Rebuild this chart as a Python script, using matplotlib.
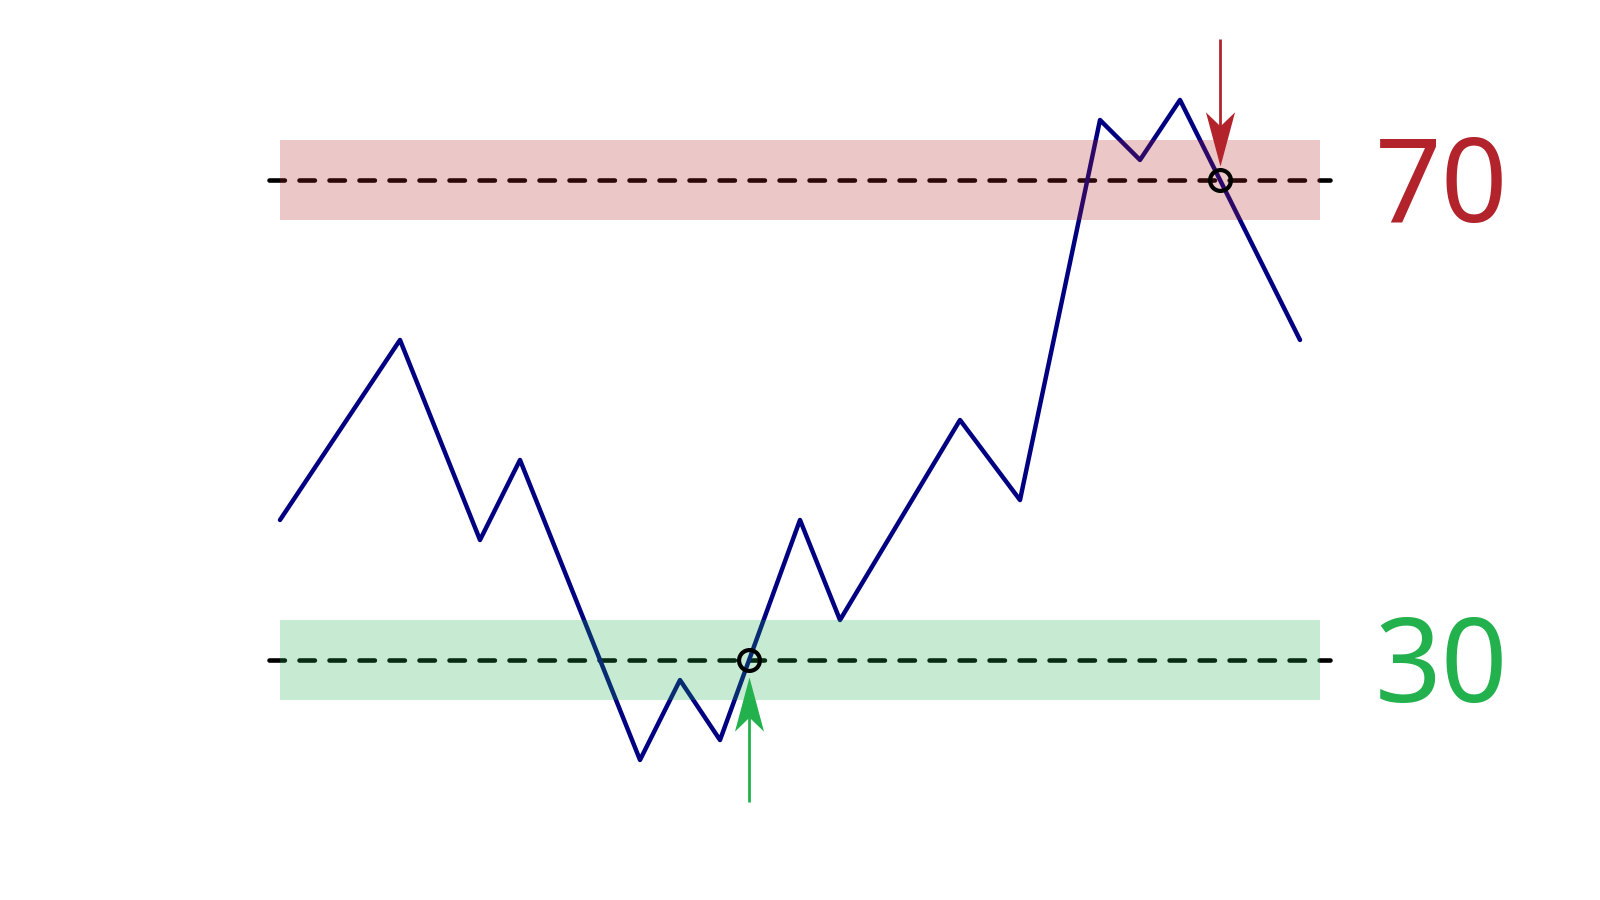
import numpy as np
import matplotlib
matplotlib.use("Agg")
import matplotlib.pyplot as plt
from matplotlib.path import Path

# data
x_vals = [0, 3, 5, 6, 9, 10, 11, 13, 14, 17, 18.5, 20.5, 21.5, 22.5, 25.5]
rsi = [41.67, 56.67, 40.0, 46.67, 21.67, 28.33, 23.33, 41.67, 33.33, 50.0,
       43.33, 75.0, 71.67, 76.67, 56.67]
upper_level = 70
lower_level = 30
band_half = 3.33
labels = ["70", "30"]

RED = "#B2232C"
GREEN = "#22B14C"
NAVY = "#000080"

fig = plt.figure(figsize=(16, 9), dpi=100)
ax = fig.add_axes([0, 0, 1, 1])
ax.set_xlim(-7, 33)
ax.set_ylim(10, 85)
ax.axis("off")

x = np.array(x_vals, dtype=float)
y = np.array(rsi, dtype=float)

# dashed level lines
for lvl in (upper_level, lower_level):
    ln, = ax.plot([x[0] - 0.268, x[-1] + 0.74], [lvl, lvl], color="black",
                  lw=3.3, zorder=1, dash_capstyle="round")
    ln.set_dashes((3.36, 3.186))

# RSI line
ax.plot(x, y, color=NAVY, lw=3.2, zorder=2, solid_joinstyle="round",
        solid_capstyle="round")

# bands
ax.fill_between([x[0], x[-1] + 0.5], upper_level - band_half, upper_level + band_half,
                color="#B22222", alpha=0.25, lw=0, zorder=3)
ax.fill_between([x[0], x[-1] + 0.5], lower_level - band_half, lower_level + band_half,
                color=GREEN, alpha=0.25, lw=0, zorder=3)


def crossing(level, direction):
    for i in range(len(x) - 1):
        a, b = y[i] - level, y[i + 1] - level
        if direction == "up" and a < 0 <= b:
            return x[i] + (x[i + 1] - x[i]) * (-a) / (b - a)
        if direction == "down" and a > 0 >= b:
            return x[i] + (x[i + 1] - x[i]) * a / (a - b)
    return None


x_sell = crossing(upper_level, "down")
x_buy = crossing(lower_level, "up")

ax.plot([x_sell, x_buy], [upper_level, lower_level], linestyle="none", marker="o",
        markersize=15, markerfacecolor="none", markeredgecolor="black",
        markeredgewidth=3, zorder=4)

# arrow head marker (stealth shape, tip at origin)
down_head = Path([(0, 0), (-14.5, 54), (0, 40), (14.5, 54), (0, 0)],
                 [Path.MOVETO, Path.LINETO, Path.LINETO, Path.LINETO, Path.CLOSEPOLY])
up_head = Path([(0, 0), (-14.5, -54), (0, -40), (14.5, -54), (0, 0)],
               [Path.MOVETO, Path.LINETO, Path.LINETO, Path.LINETO, Path.CLOSEPOLY])

# sell arrow (down)
tip_s = upper_level + 1.15
ax.plot([x_sell, x_sell], [upper_level + 11.75, tip_s + 3], color=RED, lw=2,
        zorder=5, solid_capstyle="butt")
ax.plot([x_sell], [tip_s], marker=down_head, markersize=78, color=RED,
        markeredgewidth=0, zorder=5)

# buy arrow (up)
tip_b = lower_level - 1.4
ax.plot([x_buy, x_buy], [lower_level - 11.8, tip_b - 3], color=GREEN, lw=2,
        zorder=5, solid_capstyle="butt")
ax.plot([x_buy], [tip_b], marker=up_head, markersize=78, color=GREEN,
        markeredgewidth=0, zorder=5)

# level labels
ax.text(29.05, upper_level - 3.5, labels[0], color=RED, fontsize=84,
        ha="center", va="baseline", family=["Noto Sans", "DejaVu Sans"], zorder=6)
ax.text(29.05, lower_level - 3.5, labels[1], color=GREEN, fontsize=84,
        ha="center", va="baseline", family=["Noto Sans", "DejaVu Sans"], zorder=6)

fig.savefig("out.png", dpi=100)
